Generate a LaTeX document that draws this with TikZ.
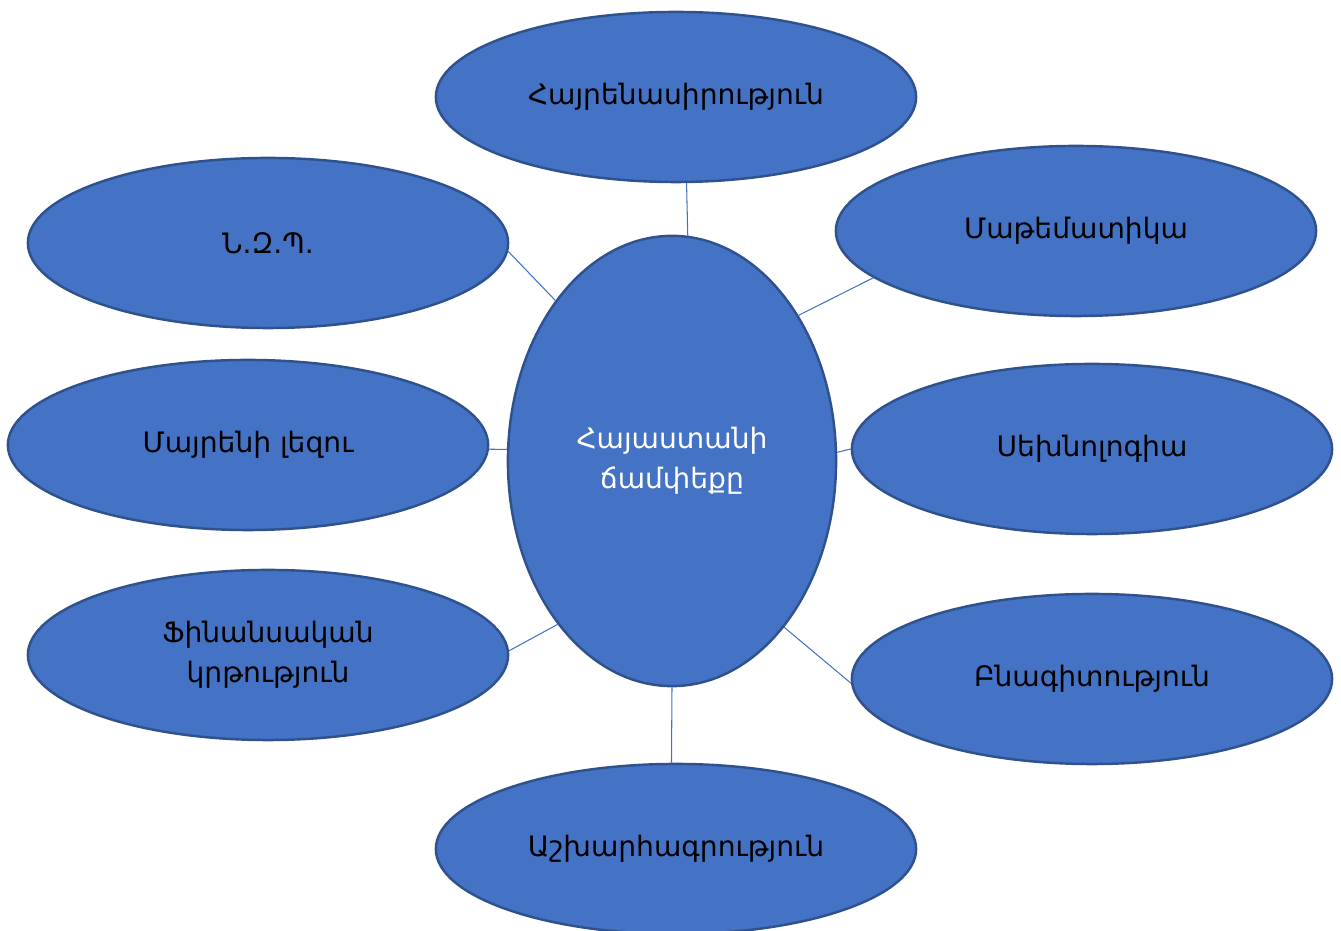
\documentclass[tikz,border=0pt]{standalone}
\usepackage{fontspec}
\setmainfont{DejaVu Sans}
\usepackage{tikz}
\usetikzlibrary{shapes.geometric}
\definecolor{nodeblue}{HTML}{4472C4}
\definecolor{edgeblue}{HTML}{2F528F}
\tikzstyle{topic} = [ellipse, draw=edgeblue, fill=nodeblue, line width=0.7pt, inner sep=0pt, minimum width=4.8cm, minimum height=1.7cm, align=center, font=\fontsize{8}{11.5}\selectfont]
\tikzstyle{hub} = [topic, minimum width=3.28cm, minimum height=4.5cm, text=white]
\tikzstyle{link} = [draw=nodeblue, line width=0.3pt]

\begin{document}
\begin{tikzpicture}[x=0.01cm, y=-0.01cm]
		            \useasboundingbox (0,0) rectangle (1341,931);
		                \node [hub] (road) at (672,461) {Հայաստանի\\ճամփեքը};
		                \node [topic] (love) at (676,97) {Հայրենասիրություն};
		                \node [topic] (nzp) at (268,243) {Ն.Զ.Պ.};
		                \node [topic] (math) at (1076,231) {Մաթեմատիկա};
		                \node [topic] (lang) at (248,445) {Մայրենի լեզու};
		                \node [topic] (tech) at (1092,449) {Սեխնոլոգիա};
		                \node [topic] (fin) at (268,655) {Ֆինանսական\\կրթություն};
		                \node [topic] (nat) at (1092,679) {Բնագիտություն};
		                \node [topic] (geo) at (676,849) {Աշխարհագրություն};
		                \path [link] (road.86) -- (love.277);
		                \path [link] (road.126) -- (nzp.-2);
		                \path [link] (road.49) -- (math.193);
		                \path [link] (road.176) -- (lang.-1);
		                \path [link] (road.3.5) -- (tech.180.5);
		                \path [link] (road.235) -- (fin.1);
		                \path [link] (road.-56) -- (nat.181);
		                \path [link] (road.270) -- (geo.93);
		            \end{tikzpicture}
\end{document}
